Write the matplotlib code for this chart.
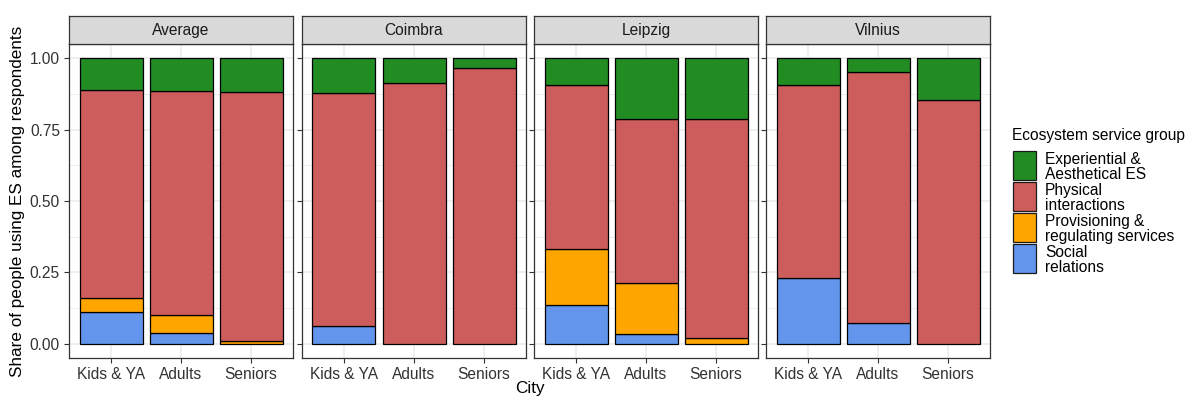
import matplotlib
matplotlib.use("Agg")
import matplotlib.pyplot as plt
from matplotlib.patches import Rectangle
import numpy as np

plt.rcParams['font.family'] = ['Liberation Sans', 'DejaVu Sans']

cities = ["Average", "Coimbra", "Leipzig", "Vilnius"]
age_groups = ["Kids & YA", "Adults", "Seniors"]

# shares per city, one value per age group
social = {
    "Average": [0.111, 0.038, 0.0],
    "Coimbra": [0.063, 0.0, 0.0],
    "Leipzig": [0.137, 0.033, 0.0],
    "Vilnius": [0.230, 0.074, 0.0],
}
provisioning = {
    "Average": [0.048, 0.063, 0.008],
    "Coimbra": [0.0, 0.0, 0.0],
    "Leipzig": [0.195, 0.178, 0.021],
    "Vilnius": [0.0, 0.0, 0.0],
}
physical = {
    "Average": [0.730, 0.784, 0.873],
    "Coimbra": [0.815, 0.914, 0.966],
    "Leipzig": [0.576, 0.576, 0.765],
    "Vilnius": [0.675, 0.879, 0.854],
}
experiential = {
    "Average": [0.111, 0.115, 0.119],
    "Coimbra": [0.122, 0.086, 0.034],
    "Leipzig": [0.092, 0.213, 0.214],
    "Vilnius": [0.095, 0.047, 0.146],
}

groups = [
    ("Social\nrelations", social, "#6495ED"),
    ("Provisioning &\nregulating services", provisioning, "#FFA500"),
    ("Physical\ninteractions", physical, "#CD5C5C"),
    ("Experiential &\nAesthetical ES", experiential, "#228B22"),
]

W, H = 1187, 398
fig = plt.figure(figsize=(W / 100, H / 100), dpi=100)

panel_left = [69, 302, 534, 766]
panel_w = 224
panel_top, panel_bottom = 44, 358
strip_top = 16

grid_col = "#EBEBEB"
frame_col = "#333333"
text_col = "#1A1A1A"
fs = 11.2

x = np.arange(1, len(age_groups) + 1)

for i, city in enumerate(cities):
    l = panel_left[i] / W
    b = 1 - panel_bottom / H
    h = (panel_bottom - panel_top) / H
    ax = fig.add_axes([l, b, panel_w / W, h])
    ax.set_xlim(0.4, 3.6)
    ax.set_ylim(-0.05, 1.05)

    for yv in np.arange(0.125, 1.0, 0.25):
        ax.axhline(yv, color=grid_col, lw=0.6, zorder=0)
    for yv in np.arange(0, 1.01, 0.25):
        ax.axhline(yv, color=grid_col, lw=1.1, zorder=0)
    for xv in x:
        ax.axvline(xv, color=grid_col, lw=1.1, zorder=0)

    bottom = np.zeros(len(age_groups))
    for label, data, color in groups:
        vals = np.array(data[city])
        for j in range(len(vals)):
            if vals[j] > 0:
                ax.bar(x[j], vals[j], width=0.9, bottom=bottom[j], color=color,
                       edgecolor="black", linewidth=0.9, zorder=2)
        bottom += vals

    ax.set_xticks(x)
    ax.set_xticklabels(age_groups, fontsize=fs, color="#333333")
    ax.set_yticks([0, 0.25, 0.5, 0.75, 1.0])
    if i == 0:
        ax.set_yticklabels(["0.00", "0.25", "0.50", "0.75", "1.00"],
                           fontsize=fs, color="#333333")
    else:
        ax.set_yticklabels([])
        ax.tick_params(axis="y", length=0)
    ax.tick_params(axis="both", color="#333333", length=3.5, width=0.8, pad=3)
    for s in ax.spines.values():
        s.set_color(frame_col)
        s.set_linewidth(0.9)

    # facet strip
    sax = fig.add_axes([l, 1 - panel_top / H, panel_w / W, (panel_top - strip_top) / H])
    sax.set_facecolor("#D9D9D9")
    sax.set_xticks([])
    sax.set_yticks([])
    for s in sax.spines.values():
        s.set_color(frame_col)
        s.set_linewidth(0.9)
    sax.text(0.5, 0.48, city, ha="center", va="center", fontsize=fs,
             color=text_col, transform=sax.transAxes)

fig.text(18 / W, 1 - 201 / H, "Share of people using ES among respondents",
         rotation=90, ha="center", va="center", fontsize=12.3, color="black")
fig.text(((panel_left[0] + panel_left[-1] + panel_w) / 2) / W, 1 - 389 / H, "City",
         ha="center", va="center", fontsize=12.3, color="black")

# legend: title, then one key per group from the top of the stack down
fig.text(1012 / W, 1 - 136 / H, "Ecosystem service group", ha="left", va="center",
         fontsize=fs, color="black")
key_x, key_w, key_h, key_pitch, key_top0 = 1013, 23, 29, 31, 151
for k, (label, _, color) in enumerate(groups[::-1]):
    top = key_top0 + k * key_pitch
    fig.patches.append(Rectangle((key_x / W, 1 - (top + key_h) / H), key_w / W, key_h / H,
                                 transform=fig.transFigure, facecolor=color,
                                 edgecolor="#1A1A1A", linewidth=0.9))
    fig.text(1045 / W, 1 - (top + key_h / 2 + 1.5) / H, label, ha="left", va="center",
             fontsize=fs, color="black", linespacing=0.98)

fig.savefig("out.png", dpi=100)
